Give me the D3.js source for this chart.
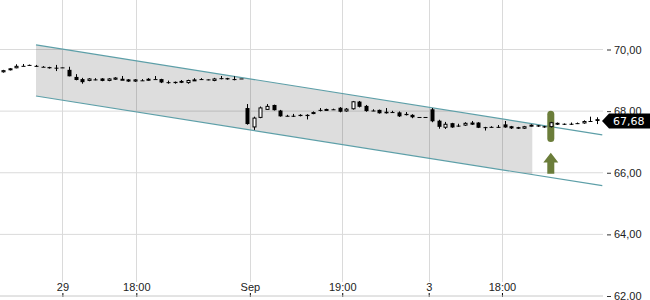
<!DOCTYPE html>
<html>
<head>
<meta charset="utf-8">
<style>
    body { margin: 0; background: #fff; }
    svg { display: block; font-family: "DejaVu Sans", sans-serif; }
    .grid line { stroke: #dadada; stroke-width: 1; }
    .y.axis text { font-size: 11px; fill: #222; }
    .x.axis text { font-size: 11px; fill: #222; }
</style>
</head>
<body>
<svg width="650" height="300"></svg>

<script src="https://d3js.org/d3.v7.min.js"></script>
<script>
    // candle data, one entry per bar
    const opens = [69.26,69.33,69.39,69.47,69.50,69.47,69.44,69.43,69.41,69.42,
        69.34,69.11,69.04,68.98,69.03,69.06,68.98,69.02,69.04,69.03,
        68.96,69.00,68.99,69.04,69.04,68.94,68.95,68.98,68.91,69.02,
        69.04,69.03,68.98,69.07,69.07,69.04,69.06,68.10,67.47,67.78,
        68.04,68.20,68.02,67.85,67.85,67.88,67.88,67.91,68.04,68.02,
        68.06,68.11,67.99,68.06,68.31,68.17,68.02,68.04,67.98,67.97,
        67.96,67.91,67.88,67.81,67.81,68.06,67.69,67.46,67.61,67.53,
        67.53,67.63,67.63,67.48,67.49,67.49,67.57,67.51,67.48,67.43,
        67.51,67.54,67.51,67.48,67.62,67.59,67.59,67.61,67.60,67.68,67.74]
    const highs = [69.34,69.40,69.52,69.53,69.51,69.50,69.46,69.44,69.50,69.42,
        69.44,69.20,69.08,69.07,69.07,69.07,69.07,69.10,69.14,69.04,
        69.04,69.04,69.07,69.14,69.05,68.99,68.96,69.01,69.02,69.07,
        69.07,69.03,69.08,69.14,69.08,69.13,69.06,68.23,67.82,68.15,
        68.23,68.21,68.04,67.88,67.91,67.90,67.90,67.99,68.10,68.08,
        68.08,68.13,68.10,68.33,68.33,68.20,68.06,68.05,68.10,68.01,
        67.99,67.97,67.90,67.81,67.81,68.10,67.72,67.65,67.62,67.59,
        67.64,67.68,67.64,67.49,67.51,67.55,67.68,67.52,67.49,67.52,
        67.57,67.55,67.52,67.65,67.63,67.60,67.63,67.63,67.70,67.82,67.80]
    const lows = [69.25,69.32,69.39,69.46,69.47,69.44,69.43,69.38,69.30,69.41,
        69.13,69.00,68.89,68.97,69.00,68.97,68.97,69.01,69.03,68.95,
        68.95,68.98,68.98,69.03,68.91,68.89,68.89,68.91,68.89,69.01,
        69.01,69.00,68.97,69.03,69.02,69.00,69.06,67.56,67.39,67.77,
        68.04,68.02,67.82,67.83,67.81,67.83,67.73,67.90,67.99,68.01,
        68.04,67.96,67.98,68.05,68.12,67.98,68.00,67.92,67.92,67.94,
        67.81,67.86,67.77,67.81,67.81,67.64,67.43,67.42,67.46,67.49,
        67.52,67.55,67.45,67.37,67.46,67.46,67.46,67.42,67.42,67.42,
        67.50,67.49,67.46,67.47,67.55,67.55,67.55,67.58,67.59,67.65,67.58]
    const closes = [69.33,69.39,69.47,69.47,69.47,69.45,69.44,69.39,69.40,69.42,
        69.13,69.01,68.94,69.06,69.03,68.98,69.06,69.09,69.05,68.96,
        69.03,68.99,69.05,69.04,68.93,68.94,68.91,68.92,69.01,69.03,
        69.02,69.01,69.06,69.04,69.03,69.04,69.06,67.58,67.79,68.12,
        68.17,68.03,67.83,67.85,67.85,67.84,67.84,67.97,68.01,68.07,
        68.05,67.98,68.08,68.32,68.14,68.00,68.01,67.93,67.93,67.96,
        67.83,67.87,67.80,67.81,67.81,67.67,67.49,67.59,67.47,67.50,
        67.62,67.56,67.46,67.48,67.48,67.49,67.47,67.44,67.43,67.51,
        67.56,67.50,67.47,67.64,67.56,67.56,67.56,67.59,67.68,67.68,67.68]

    // x axis ticks (positions in bar index units)
    const tickIndex = [9, 20.2, 37.4, 51.4, 64.5, 75.6]
    const tickLabels = ["29", "18:00", "Sep", "19:00", "3", "18:00"]
    const yTicks = [62, 64, 66, 68, 70]

    // trend channel
    const channelIndex = [5, 90.8]
    const channelUpper = [70.15, 67.23]
    const channelLower = [68.49, 65.58]
    const shadeEndIndex = 80.2

    // signal marker
    const signalIndex = 83
    const signalRange = [67.0, 68.01]
    const arrowRange = [65.97, 66.65]

    const lastPrice = closes[closes.length - 1]

    let svg = d3.select("svg")
    let plotRight = 603

    let x = d3.scaleLinear().domain([0, opens.length - 1]).range([3, 597])
    let y = d3.scaleLinear().domain([62, 70]).range([296, 49.5])

    let commaFmt = v => d3.format(".2f")(v).replace(".", ",")

    // gridlines
    let grid = svg.append("g").attr("class", "grid")
    grid.selectAll(".h").data(yTicks).join("line")
        .attr("x1", 0).attr("x2", plotRight)
        .attr("y1", d => y(d)).attr("y2", d => y(d))
    grid.selectAll(".v").data(tickIndex).join("line")
        .attr("x1", d => Math.round(x(d)) + 0.5).attr("x2", d => Math.round(x(d)) + 0.5)
        .attr("y1", 0).attr("y2", 282)

    // channel as linear functions of index
    let slope = (arr) => (arr[1] - arr[0]) / (channelIndex[1] - channelIndex[0])
    let upperAt = i => channelUpper[0] + slope(channelUpper) * (i - channelIndex[0])
    let lowerAt = i => channelLower[0] + slope(channelLower) * (i - channelIndex[0])

    let shade = [
        [x(channelIndex[0]), y(upperAt(channelIndex[0]))],
        [x(shadeEndIndex), y(upperAt(shadeEndIndex))],
        [x(shadeEndIndex), y(lowerAt(shadeEndIndex))],
        [x(channelIndex[0]), y(lowerAt(channelIndex[0]))]
    ]
    svg.append("path")
        .attr("d", d3.line()(shade) + "Z")
        .style("fill", "#000")
        .style("fill-opacity", 0.135)

    svg.selectAll(".chan").data([channelUpper, channelLower]).join("line")
        .attr("x1", x(channelIndex[0])).attr("x2", x(channelIndex[1]))
        .attr("y1", d => y(d[0])).attr("y2", d => y(d[1]))
        .style("stroke", "#5d9fa8")
        .style("stroke-width", 1.2)

    // signal marker (behind candles)
    svg.append("rect")
        .attr("x", x(signalIndex) - 3.5)
        .attr("y", y(signalRange[1]))
        .attr("width", 7)
        .attr("height", y(signalRange[0]) - y(signalRange[1]))
        .attr("rx", 3.5)
        .style("fill", "#6b7d3a")

    let ax = x(signalIndex)
    let aTop = y(arrowRange[1]), aBot = y(arrowRange[0])
    let aMid = aTop + (aBot - aTop) * 0.47
    svg.append("path")
        .attr("d", d3.line()([
            [ax, aTop], [ax + 7.5, aMid], [ax + 3.5, aMid], [ax + 3.5, aBot],
            [ax - 3.5, aBot], [ax - 3.5, aMid], [ax - 7.5, aMid]
        ]) + "Z")
        .style("fill", "#6b7d3a")

    // candles
    let candles = opens.map((o, i) => ({ i: i, o: o, h: highs[i], l: lows[i], c: closes[i] }))

    let cg = svg.append("g").selectAll("g").data(candles).join("g")
    cg.append("line")
        .attr("x1", d => Math.round(x(d.i)) + 0.5).attr("x2", d => Math.round(x(d.i)) + 0.5)
        .attr("y1", d => y(d.h)).attr("y2", d => y(d.l))
        .style("stroke", "#000")
        .style("stroke-width", 1)
    cg.append("rect")
        .attr("x", d => d.c > d.o ? Math.round(x(d.i)) - 1 : Math.round(x(d.i)) - 1.5)
        .attr("y", d => {
            let top = y(Math.max(d.o, d.c))
            return d.c > d.o ? top + 0.5 : top
        })
        .attr("width", d => d.c > d.o ? 3 : 4)
        .attr("height", d => {
            let hgt = Math.abs(y(d.o) - y(d.c))
            return d.c > d.o ? Math.max(1, hgt - 1) : Math.max(1, hgt)
        })
        .style("fill", d => d.c > d.o ? "#fff" : "#000")
        .style("stroke", d => d.c > d.o ? "#000" : "none")
        .style("stroke-width", 1)

    // right axis
    let yAxis = svg.append("g")
        .attr("class", "y axis")
        .attr("transform", `translate(607,0)`)
        .call(d3.axisRight(y).tickValues(yTicks).tickSize(4).tickPadding(3).tickFormat(commaFmt))
        .call(g => g.select(".domain").remove())
        .call(g => g.selectAll(".tick line").style("stroke", "#333"))

    // x axis
    let xAxis = svg.append("g")
        .attr("class", "x axis")
        .attr("transform", `translate(0,${y(62)})`)
        .call(d3.axisBottom(x).tickValues(tickIndex).tickSize(0)
            .tickFormat((d, i) => tickLabels[i]))
        .call(g => g.select(".domain").remove())
    xAxis.selectAll(".tick text").attr("y", -9).attr("dy", "0.32em")
    xAxis.selectAll(".tick line").attr("y1", -3).attr("y2", 1).style("stroke", "#000")

    svg.append("line")
        .attr("x1", 0).attr("x2", plotRight)
        .attr("y1", y(62)).attr("y2", y(62))
        .style("stroke", "#dadada")

    // last price label
    let py = y(lastPrice)
    svg.append("path")
        .attr("d", d3.line()([[602, py], [609, py - 7.5], [650, py - 7.5], [650, py + 7.5], [609, py + 7.5]]) + "Z")
        .style("fill", "#000")
    svg.append("text")
        .attr("x", 613)
        .attr("y", py)
        .attr("dy", "0.35em")
        .style("font-size", "11px")
        .style("fill", "#fff")
        .text(commaFmt(lastPrice))
</script>
</body>
</html>
